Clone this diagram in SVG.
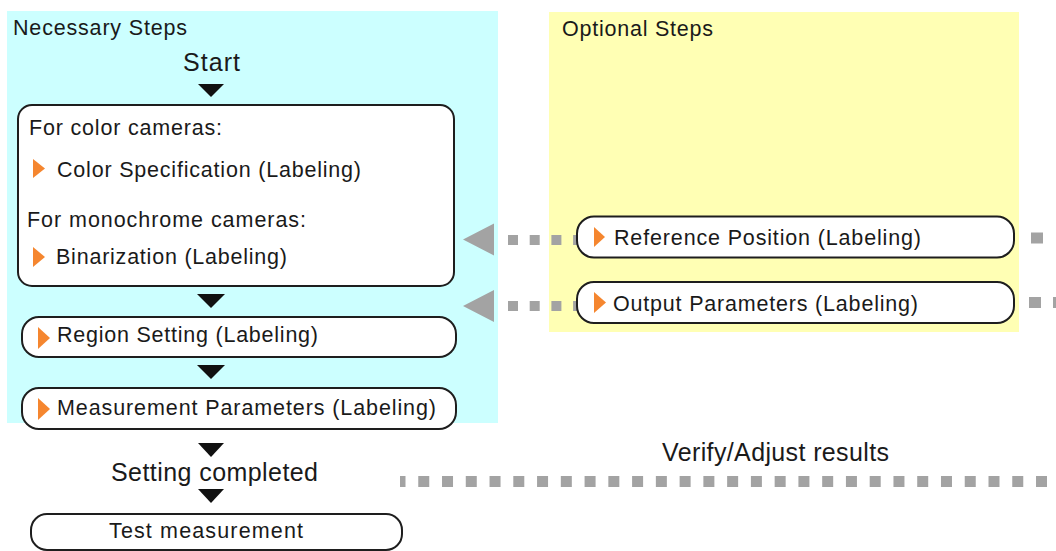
<svg xmlns="http://www.w3.org/2000/svg" width="1056" height="551" viewBox="0 0 1056 551">
  <style>
    text { font-family: "Liberation Sans", Arial, sans-serif; fill: #1a1a1a; }
    .s { font-size: 21.5px; }
    .l { font-size: 25px; }
    .box { fill: #ffffff; stroke: #1e1e1e; stroke-width: 2; }
    .tri { fill: #f5862f; }
    .down { fill: #111111; }
    .garrow { fill: #a3a3a3; }
    .dots { stroke: #a3a3a3; fill: none; }
  </style>
  <rect width="1056" height="551" fill="#ffffff"/>

  <g id="panel-necessary">
    <rect x="7" y="11" width="491" height="412" fill="#ccffff"/>
    <text class="s" x="13" y="35" textLength="174">Necessary Steps</text>
  </g>
  <g id="panel-optional">
    <rect x="549" y="12" width="470" height="320" fill="#ffffb4"/>
    <text class="s" x="562" y="36" textLength="151">Optional Steps</text>
  </g>

  <g id="connectors">
    <polygon class="down" points="198,84 224,84 211,97"/>
    <polygon class="down" points="197,294 225,294 211,308"/>
    <polygon class="down" points="197,365 225,365 211,379"/>
    <polygon class="down" points="198,443 224,443 211,457"/>
    <polygon class="down" points="198,489 224,489 211,503"/>

    <polygon class="garrow" points="463,239.5 494,223.5 494,255.5"/>
    <line class="dots" x1="508" y1="240" x2="590" y2="240" stroke-width="10" stroke-dasharray="10 11.7"/>
    <line class="dots" x1="1031" y1="238" x2="1043" y2="238" stroke-width="11"/>

    <polygon class="garrow" points="463,306 494,290 494,322"/>
    <line class="dots" x1="508" y1="306" x2="590" y2="306" stroke-width="10" stroke-dasharray="10 11.7"/>
    <line class="dots" x1="1029" y1="302.5" x2="1056" y2="302.5" stroke-width="11" stroke-dasharray="12 12"/>

    <line class="dots" x1="400" y1="481.5" x2="1047" y2="481.5" stroke-width="11" stroke-dasharray="11 12.76" stroke-dashoffset="5.5"/>
    <text class="l" x="662" y="461" textLength="227">Verify/Adjust results</text>
  </g>

  <g id="node-start">
    <text class="l" x="183" y="71" textLength="57">Start</text>
  </g>

  <g id="node-color-binarization">
    <rect class="box" x="18" y="105" width="436" height="181" rx="14"/>
    <text class="s" x="29" y="135" textLength="193">For color cameras:</text>
    <polygon class="tri" points="33,159 33,178 45,168.5"/>
    <text class="s" x="57" y="177" textLength="304">Color Specification (Labeling)</text>
    <text class="s" x="27" y="227" textLength="279">For monochrome cameras:</text>
    <polygon class="tri" points="33,247 33,267 45,257"/>
    <text class="s" x="56" y="264" textLength="231">Binarization (Labeling)</text>
  </g>

  <g id="node-region">
    <rect class="box" x="22" y="317" width="434" height="40" rx="17"/>
    <polygon class="tri" points="38,327 38,349 50,338"/>
    <text class="s" x="57" y="342" textLength="261">Region Setting (Labeling)</text>
  </g>

  <g id="node-measurement">
    <rect class="box" x="22" y="388" width="434" height="41" rx="17"/>
    <polygon class="tri" points="38,398 38,420 50,409"/>
    <text class="s" x="57" y="415" textLength="379">Measurement Parameters (Labeling)</text>
  </g>

  <g id="node-completed">
    <text class="l" x="111" y="481" textLength="207">Setting completed</text>
  </g>

  <g id="node-test">
    <rect class="box" x="31" y="514" width="371" height="36" rx="16"/>
    <text class="s" x="109" y="538" textLength="194">Test measurement</text>
  </g>

  <g id="node-reference">
    <rect class="box" x="577" y="216.5" width="437" height="41" rx="17"/>
    <polygon class="tri" points="594,227 594,247 605,237"/>
    <text class="s" x="614" y="245" textLength="307">Reference Position (Labeling)</text>
  </g>

  <g id="node-output">
    <rect class="box" x="577" y="282" width="437" height="41" rx="17"/>
    <polygon class="tri" points="594,292 594,313 606,302.5"/>
    <text class="s" x="613" y="311" textLength="305">Output Parameters (Labeling)</text>
  </g>
</svg>
